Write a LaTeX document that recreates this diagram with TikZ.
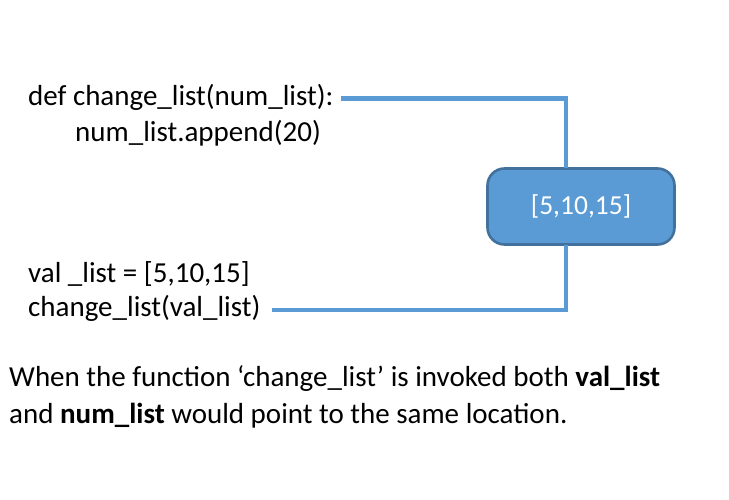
\documentclass[tikz,border=0pt]{standalone}
\usepackage{fontspec}
\setmainfont{Carlito}
\begin{document}
\begin{tikzpicture}[x=1pt,y=-1pt,
  txt/.style={anchor=base west,inner sep=0pt,font=\fontsize{29}{32}\selectfont},
  wire/.style={draw=lineblue,line width=4.6pt},
  membox/.style={draw=boxedge,line width=2.6pt,fill=boxfill,rounded corners=17pt,
    minimum width=187pt,minimum height=76pt,inner sep=0pt,text=white,
    font=\fontsize{27.5}{30}\selectfont}]
\definecolor{lineblue}{HTML}{5B9BD5}
\definecolor{boxfill}{HTML}{5B9BD5}
\definecolor{boxedge}{HTML}{41719C}
\useasboundingbox (0,0) rectangle (729,500);
\node[txt] (def) at (28,105.5) {def change\_list(num\_list):};
\node[txt] (app) at (75,142) {num\_list.append(20)};
\node[txt] (val) at (28,282) {val \_list = [5,10,15]};
\node[txt] (call) at (28,316) {change\_list(val\_list)};
\node[membox] (box) at (581,206.5) {[5,10,15]};
\node[txt] (n1) at (9,386) {When the function ‘change\_list’ is invoked both \textbf{val\_list}};
\node[txt] (n2) at (9,423) {and \textbf{num\_list} would point to the same location.};
\coordinate (a1) at (341,98.5);
\coordinate (a2) at (272,310);
\coordinate (t1) at (566,168);
\coordinate (t2) at (566,245);
\draw[wire] (a1) -| (t1);
\draw[wire] (a2) -| (t2);
\end{tikzpicture}
\end{document}
